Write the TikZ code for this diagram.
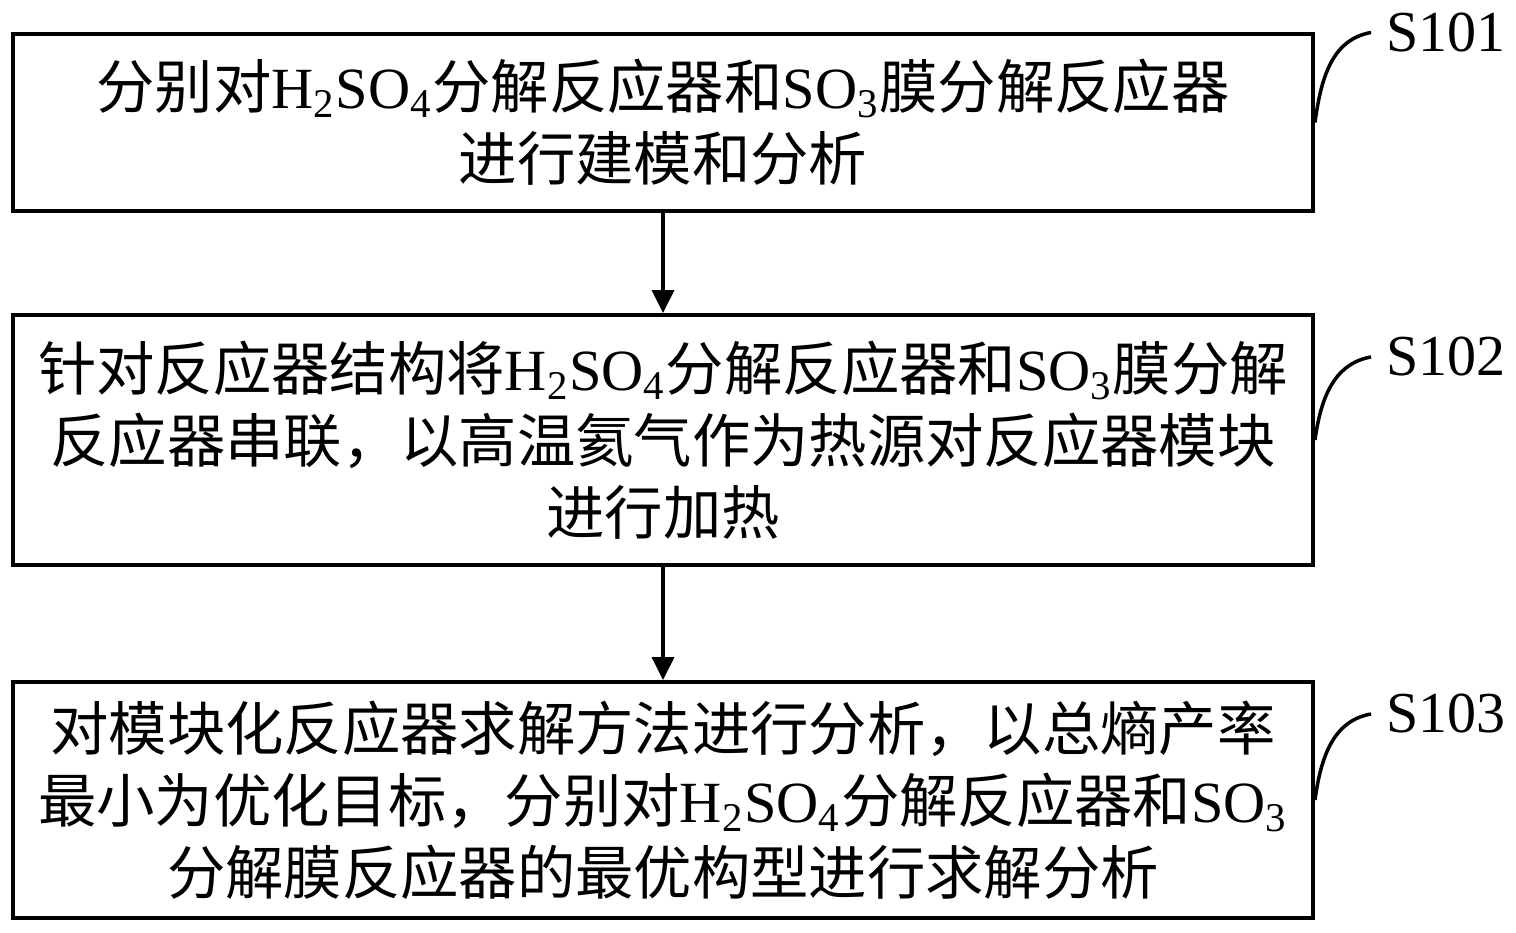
\documentclass[tikz,border=0pt]{standalone}
\usepackage{fontspec}
\setmainfont{Noto Sans CJK SC}
\newfontfamily\latin{Liberation Serif}
\usepackage{tikz}
\usetikzlibrary{positioning}
\usetikzlibrary{calc,arrows.meta}

\newcommand{\chem}[1]{{\latin #1}}

\tikzset{
    stepbox/.style={draw, line width=1.1pt, minimum width=13cm, align=center, inner sep=0pt,
        font=\fontsize{16.6pt}{20.5pt}\selectfont},
    steplabel/.style={anchor=west, inner sep=0pt, font=\latin\fontsize{16.5pt}{20pt}\selectfont},
    flow/.style={line width=1pt, -{Triangle[length=2.3mm,width=2.2mm]}},
    tag/.style={line width=1pt}
}

\begin{document}
\begin{tikzpicture}
    \useasboundingbox (0,0) rectangle (15.16,9.33);

    % Steps
    \node[stepbox, minimum height=1.77cm] (b1) at (6.63,8.105)
        {分别对\chem{H\textsubscript{2}SO\textsubscript{4}}分解反应器和\chem{SO\textsubscript{3}}膜分解反应器\\进行建模和分析};
    \node[stepbox, minimum height=2.5cm] (b2) at (6.63,4.93)
        {针对反应器结构将\chem{H\textsubscript{2}SO\textsubscript{4}}分解反应器和\chem{SO\textsubscript{3}}膜分解\\反应器串联，以高温氦气作为热源对反应器模块\\进行加热};
    \node[stepbox, minimum height=2.36cm] (b3) at (6.63,1.33)
        {对模块化反应器求解方法进行分析，以总熵产率\\最小为优化目标，分别对\chem{H\textsubscript{2}SO\textsubscript{4}}分解反应器和\chem{SO\textsubscript{3}}\\分解膜反应器的最优构型进行求解分析};

    % Step labels
    \node[steplabel] (l1) at (13.86,9.005) {S101};
    \node[steplabel] (l2) at (13.86,5.76) {S102};
    \node[steplabel] (l3) at (13.86,2.19) {S103};

    % Arrows
    \draw[flow] (b1) -- (b2);
    \draw[flow] (b2) -- (b3);

    % Leader curves
    \draw[tag] (b1.east) to[out=82, in=190] ([xshift=-1.5mm]l1.west);
    \draw[tag] (b2.east) to[out=82, in=190] ([xshift=-1.5mm]l2.west);
    \draw[tag] (b3.east) to[out=82, in=190] ([xshift=-1.5mm]l3.west);
\end{tikzpicture}
\end{document}
